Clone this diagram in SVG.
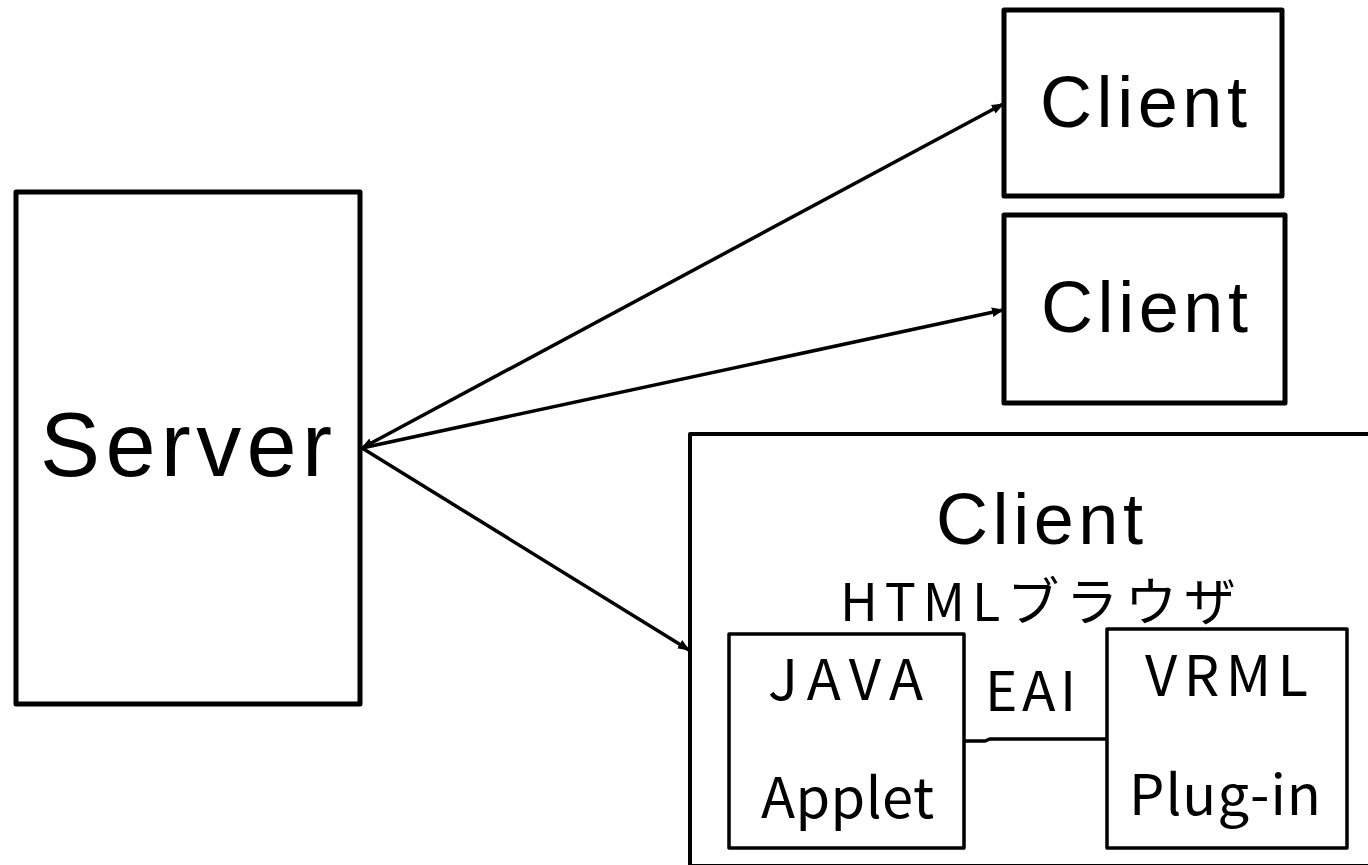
<svg xmlns="http://www.w3.org/2000/svg" width="1368" height="865" viewBox="0 0 1368 865">
  <style>
    .box { fill: #ffffff; stroke: #000000; stroke-linejoin: round; }
    .thick { stroke-width: 5; }
    .mid { stroke-width: 4; }
    .thin { stroke-width: 3.5; }
    .lbl { font-family: "Liberation Sans", "Noto Sans CJK JP", sans-serif; fill: #000000; }
    .jp { font-family: "Noto Sans CJK JP", "Liberation Sans", sans-serif; fill: #000000; }
    .link { fill: none; stroke: #000000; stroke-width: 3.5; }
  </style>
  <defs>
    <marker id="head" viewBox="0 0 10 10" refX="9" refY="5" markerWidth="3.5" markerHeight="3.5" orient="auto-start-reverse" markerUnits="strokeWidth">
      <path d="M0,1 L10,5 L0,9 Z" fill="#000000"/>
    </marker>
  </defs>
  <rect width="1368" height="865" fill="#ffffff"/>

  <g id="server">
    <rect class="box thick" x="16" y="192" width="344" height="512"/>
    <text class="lbl" x="40" y="476" font-size="90" textLength="292" lengthAdjust="spacing">Server</text>
  </g>

  <g id="client-1">
    <rect class="box thick" x="1004" y="10" width="278" height="186"/>
    <text class="lbl" x="1040" y="127" font-size="72" textLength="207" lengthAdjust="spacing">Client</text>
  </g>

  <g id="client-2">
    <rect class="box thick" x="1004" y="215" width="281" height="188"/>
    <text class="lbl" x="1041" y="332" font-size="72" textLength="207" lengthAdjust="spacing">Client</text>
  </g>

  <g id="client-browser">
    <rect class="box mid" x="690" y="434" width="700" height="432"/>
    <text class="lbl" x="936" y="544" font-size="72" textLength="207" lengthAdjust="spacing">Client</text>
    <text class="jp" x="840" y="621" font-size="52" textLength="396" lengthAdjust="spacing">HTMLブラウザ</text>
  </g>

  <g id="java-applet">
    <rect class="box thin" x="729" y="634" width="235" height="214"/>
    <text class="jp" x="768" y="700" font-size="56" textLength="155" lengthAdjust="spacing">JAVA</text>
    <text class="jp" x="761" y="818" font-size="56" textLength="173" lengthAdjust="spacing">Applet</text>
  </g>

  <g id="vrml-plugin">
    <rect class="box thin" x="1107" y="629" width="240" height="219"/>
    <text class="jp" x="1145" y="696" font-size="56" textLength="163" lengthAdjust="spacing">VRML</text>
    <text class="jp" x="1129" y="815" font-size="56" textLength="192" lengthAdjust="spacing">Plug-in</text>
  </g>

  <g id="eai-label">
    <text class="jp" x="985" y="711" font-size="55" textLength="91" lengthAdjust="spacing">EAI</text>
  </g>

  <g id="connectors">
    <line class="link" x1="362" y1="448" x2="1003" y2="104" marker-start="url(#head)" marker-end="url(#head)"/>
    <line class="link" x1="362" y1="448" x2="1003" y2="310" marker-end="url(#head)"/>
    <line class="link" x1="362" y1="448" x2="689" y2="650" marker-end="url(#head)"/>
    <polyline class="link" points="964,741 985,741 990,739 1107,739"/>
  </g>
</svg>
